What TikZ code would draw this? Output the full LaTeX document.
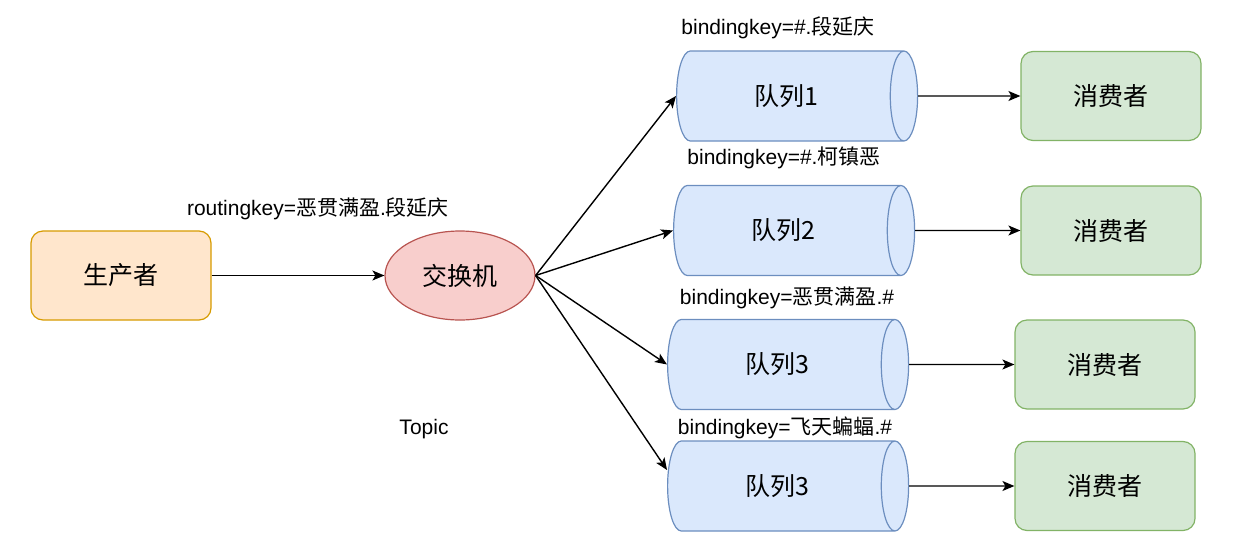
\documentclass[tikz,border=0pt]{standalone}
\usepackage{fontspec}
\setmainfont{Liberation Sans}
\newfontfamily\cjk{Noto Sans CJK SC}
\usetikzlibrary{shapes.geometric,arrows.meta}
\definecolor{prodfill}{HTML}{FFE6CC}
\definecolor{prodline}{HTML}{D79B00}
\definecolor{exfill}{HTML}{F8CECC}
\definecolor{exline}{HTML}{B85450}
\definecolor{qfill}{HTML}{DAE8FC}
\definecolor{qline}{HTML}{6C8EBF}
\definecolor{consfill}{HTML}{D5E8D4}
\definecolor{consline}{HTML}{82B366}
\tikzstyle{producer} = [rectangle, rounded corners=6pt, minimum width=90pt, minimum height=44.5pt, line width=0.6pt, draw=prodline, fill=prodfill, font=\fontsize{12.5}{15}\selectfont\cjk]
\tikzstyle{exchange} = [ellipse, inner sep=0pt, minimum width=75pt, minimum height=44.5pt, line width=0.6pt, draw=exline, fill=exfill, font=\fontsize{12.5}{15}\selectfont\cjk]
\tikzstyle{queue} = [cylinder, anchor=west, shape aspect=0.75, minimum width=45pt, minimum height=120.5pt, line width=0.6pt, draw=qline, fill=qfill, font=\fontsize{12.5}{15}\selectfont\cjk]
\tikzstyle{consumer} = [rectangle, rounded corners=6pt, minimum width=90pt, minimum height=44.5pt, line width=0.6pt, draw=consline, fill=consfill, font=\fontsize{12.5}{15}\selectfont\cjk]
\tikzstyle{keylabel} = [inner sep=0pt, font=\fontsize{10.5}{12}\selectfont]
\tikzstyle{arrow} = [line width=0.7pt,->,>={Stealth[length=6pt,width=5pt,inset=1.5pt]}]

\begin{document}
\begin{tikzpicture}[x=0.5pt, y=-0.5pt]
      \useasboundingbox (0,0) rectangle (1245,557);
      \node (prod)[producer] at (121,275.5) {生产者};
      \node (ex)[exchange] at (460,275.5) {交换机};
      \node (q1)[queue] at (676,96) {队列1};
      \node (q2)[queue] at (673,230.5) {队列2};
      \node (q3)[queue] at (667,364.5) {队列3};
      \node (q4)[queue] at (667,486) {队列3};
      \node (c1)[consumer] at (1111,96) {消费者};
      \node (c2)[consumer] at (1111,230.5) {消费者};
      \node (c3)[consumer] at (1105,364.5) {消费者};
      \node (c4)[consumer] at (1105,486) {消费者};
      % labels
      \node (rk)[keylabel] at (318,209) {routingkey={\cjk 恶贯满盈}.{\cjk 段延庆}};
      \node (topic)[keylabel] at (424,429) {Topic};
      \node (bk1)[keylabel] at (778,28) {bindingkey=\#.{\cjk 段延庆}};
      \node (bk2)[keylabel] at (784,158) {bindingkey=\#.{\cjk 柯镇恶}};
      \node (bk3)[keylabel] at (787,298) {bindingkey={\cjk 恶贯满盈}.\#};
      \node (bk4)[keylabel] at (785,428) {bindingkey={\cjk 飞天蝙蝠}.\#};
      % connectors
      \draw [arrow](prod)--(ex);
      \draw [arrow](ex.east)--(q1.west);
      \draw [arrow](ex.east)--(q2.west);
      \draw [arrow](ex.east)--(q3.west);
      \draw [arrow](ex.east)--([yshift=8pt]q4.west);
      \draw [arrow](q1.east)--(c1.west);
      \draw [arrow](q2.east)--(c2.west);
      \draw [arrow](q3.east)--(c3.west);
      \draw [arrow](q4.east)--(c4.west);
    \end{tikzpicture}
\end{document}
